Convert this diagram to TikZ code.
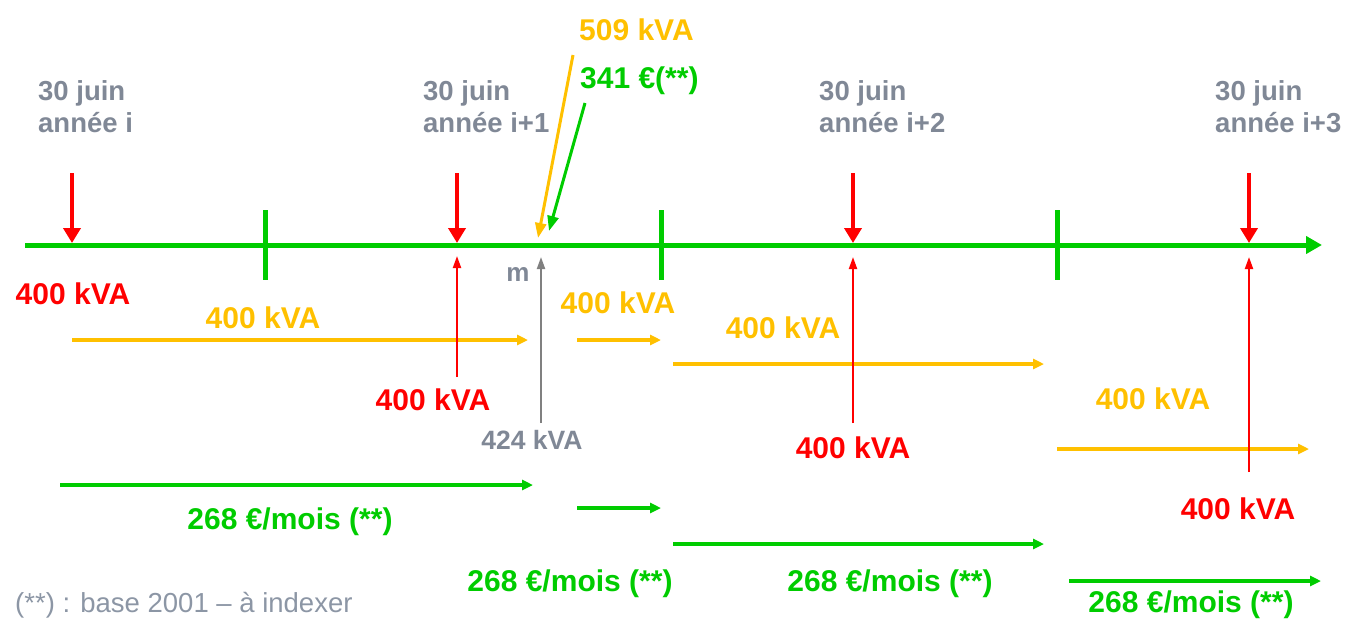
\documentclass[tikz,border=0pt]{standalone}
\usepackage{fontspec}
\setmainfont{Liberation Sans}
\usetikzlibrary{arrows.meta}
\definecolor{cgreen}{RGB}{0,204,0}
\definecolor{cyellow}{RGB}{255,192,0}
\definecolor{cred}{RGB}{255,0,0}
\definecolor{cgraytxt}{RGB}{128,136,150}
\definecolor{cgrayarr}{RGB}{128,128,128}
\definecolor{cnote}{RGB}{140,150,165}
\begin{document}
\begin{tikzpicture}[x=1pt,y=-1pt,
  big/.style={font=\fontsize{30}{36}\selectfont\bfseries, inner sep=0pt},
  money/.style={font=\fontsize{30}{36}\selectfont\bfseries, inner sep=0pt, text=cgreen, anchor=base},
  datelbl/.style={font=\fontsize{27.5}{32}\selectfont\bfseries, text=cgraytxt, align=left, inner sep=0pt, anchor=north west},
  axisline/.style={cgreen, line width=5pt, -{Triangle[length=16pt,width=17pt]}},
  tickmark/.style={cgreen, line width=5pt},
  bigdown/.style={cred, line width=4.5pt, -{Triangle[length=15pt,width=17pt]}},
  thinup/.style={line width=2pt, -{Triangle[length=12pt,width=8pt]}},
  harrow/.style={line width=3.5pt, -{Triangle[length=11pt,width=10pt]}},
  diag/.style={line width=3pt, -{Triangle[length=15pt,width=11pt]}},
]
\useasboundingbox (0,0) rectangle (1348,619);

% axis
\coordinate (ax0) at (25,245);
\coordinate (ax1) at (1322,245);
\draw[axisline] (ax0) -- (ax1);

% ticks
\coordinate (t1a) at (265,210); \coordinate (t1b) at (265,280);
\coordinate (t2a) at (661,210); \coordinate (t2b) at (661,280);
\coordinate (t3a) at (1057,210); \coordinate (t3b) at (1057,280);
\draw[tickmark] (t1a) -- (t1b);
\draw[tickmark] (t2a) -- (t2b);
\draw[tickmark] (t3a) -- (t3b);

% date labels
\node[datelbl] (dA) at (38,80) {30 juin\\année i};
\node[datelbl] (dB) at (423,80) {30 juin\\année i+1};
\node[datelbl] (dC) at (819,80) {30 juin\\année i+2};
\node[datelbl] (dD) at (1215,80) {30 juin\\année i+3};

% red down arrows
\coordinate (r1a) at (72,173);   \coordinate (r1b) at (72,243);
\coordinate (r2a) at (457,173);  \coordinate (r2b) at (457,243);
\coordinate (r3a) at (853,173);  \coordinate (r3b) at (853,243);
\coordinate (r4a) at (1249,173); \coordinate (r4b) at (1249,243);
\draw[bigdown] (r1a) -- (r1b);
\draw[bigdown] (r2a) -- (r2b);
\draw[bigdown] (r3a) -- (r3b);
\draw[bigdown] (r4a) -- (r4b);

% top labels and diagonal arrows
\node[big, text=cyellow, anchor=base west] (k509) at (579,40) {509 kVA};
\node[big, text=cgreen, anchor=base west] (e341) at (580,88) {341 €(**)};
\coordinate (y0a) at (573,55);  \coordinate (y0b) at (538,238);
\coordinate (g0a) at (585,103); \coordinate (g0b) at (549,231);
\draw[diag, cyellow] (y0a) -- (y0b);
\draw[diag, cgreen] (g0a) -- (g0b);

% yellow power arrows and labels
\coordinate (y1a) at (72,340);   \coordinate (y1b) at (528,340);
\coordinate (y2a) at (577,340);  \coordinate (y2b) at (661,340);
\coordinate (y3a) at (673,364);  \coordinate (y3b) at (1044,364);
\coordinate (y4a) at (1057,449); \coordinate (y4b) at (1309,449);
\draw[harrow, cyellow] (y1a) -- (y1b);
\draw[harrow, cyellow] (y2a) -- (y2b);
\draw[harrow, cyellow] (y3a) -- (y3b);
\draw[harrow, cyellow] (y4a) -- (y4b);
\node[big, text=cyellow] (yl1) at (263,318) {400 kVA};
\node[big, text=cyellow] (yl2) at (618,303) {400 kVA};
\node[big, text=cyellow] (yl3) at (783,328) {400 kVA};
\node[big, text=cyellow] (yl4) at (1153,399) {400 kVA};

% red thin up arrows and labels
\coordinate (u1a) at (457,377);  \coordinate (u1b) at (457,256);
\coordinate (u2a) at (853,423);  \coordinate (u2b) at (853,257);
\coordinate (u3a) at (1249,472); \coordinate (u3b) at (1249,257);
\draw[thinup, cred] (u1a) -- (u1b);
\draw[thinup, cred] (u2a) -- (u2b);
\draw[thinup, cred] (u3a) -- (u3b);
\node[big, text=cred] (rl0) at (73,294) {400 kVA};
\node[big, text=cred] (rl1) at (433,400) {400 kVA};
\node[big, text=cred] (rl2) at (853,448) {400 kVA};
\node[big, text=cred] (rl3) at (1238,509) {400 kVA};

% gray measured arrow
\coordinate (m0a) at (541,423); \coordinate (m0b) at (541,257);
\draw[thinup, cgrayarr] (m0a) -- (m0b);
\node[font=\fontsize{26}{30}\selectfont\bfseries, text=cgraytxt, inner sep=0pt, anchor=base] (mlbl) at (518,281) {m};
\node[font=\fontsize{26.5}{32}\selectfont\bfseries, text=cgraytxt, inner sep=0pt] (k424) at (532,440) {424 kVA};

% green money arrows and labels
\coordinate (g1a) at (60,485);   \coordinate (g1b) at (533,485);
\coordinate (g2a) at (577,508);  \coordinate (g2b) at (661,508);
\coordinate (g3a) at (673,544);  \coordinate (g3b) at (1044,544);
\coordinate (g4a) at (1069,581); \coordinate (g4b) at (1321,581);
\draw[harrow, cgreen] (g1a) -- (g1b);
\draw[harrow, cgreen] (g2a) -- (g2b);
\draw[harrow, cgreen] (g3a) -- (g3b);
\draw[harrow, cgreen] (g4a) -- (g4b);
\node[money] (ml1) at (290,529) {268 €/mois (**)};
\node[money] (ml2) at (570,591) {268 €/mois (**)};
\node[money] (ml3) at (890,591) {268 €/mois (**)};
\node[money] (ml4) at (1191,612) {268 €/mois (**)};

% footnote
\node[font=\fontsize{27.5}{32}\selectfont, text=cnote, inner sep=0pt, anchor=base west] (note) at (15,612) {(**) : base 2001 – à indexer};
\end{tikzpicture}
\end{document}
